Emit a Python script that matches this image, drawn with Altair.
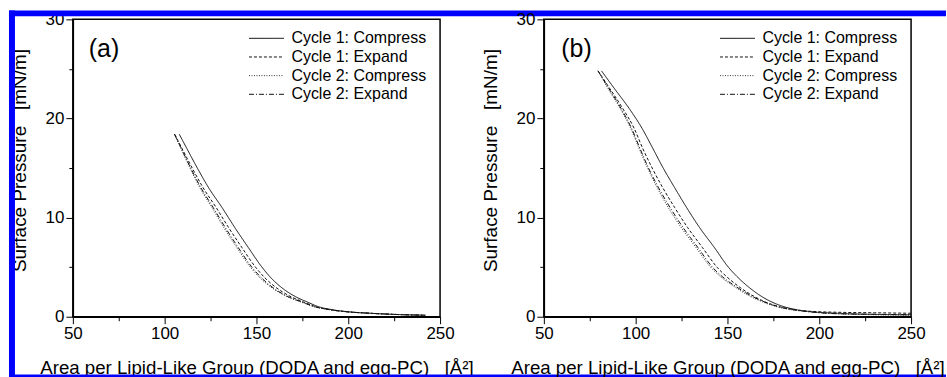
import altair as alt
import pandas as pd

FONT = "Liberation Sans"
series = ["Cycle 1: Compress", "Cycle 1: Expand", "Cycle 2: Compress", "Cycle 2: Expand"]
line_colors = ["#111111", "#111111", "#333333", "#111111"]
line_dashes = [[1, 0], [3, 2], [1, 1.5], [5, 2, 1, 2]]

# ---- panel (a) ----
a_pressure = [18.4, 17, 15, 13, 11, 9, 7, 5, 4, 3, 2, 1.5, 1, 0.7, 0.5, 0.35, 0.25, 0.15]
a_c1_compress = [108.0, 112.0, 117.8, 124.0, 131.3, 138.2, 145.5, 153.0, 157.5, 163.3, 171.5, 177.5, 184.0, 191.5, 200.0, 212.0, 223.0, 242.0]
a_c1_expand = [105.5, 109.4, 115.0, 121.0, 128.1, 134.8, 142.0, 149.5, 154.2, 160.3, 169.0, 175.5, 182.5, 190.5, 199.5, 212.0, 223.0, 242.0]
a_c2_compress = [105.3, 108.8, 113.8, 119.2, 125.8, 132.2, 139.2, 146.7, 151.5, 157.8, 167.0, 174.0, 181.5, 190.0, 199.0, 211.5, 223.0, 242.0]
a_c2_expand = [105.4, 109.0, 114.2, 119.8, 126.5, 133.0, 140.0, 147.5, 152.3, 158.5, 167.5, 174.5, 182.0, 190.2, 199.2, 211.7, 223.0, 242.0]

# ---- panel (b) ----
b_c1_compress_x = [81.4, 88.5, 96.5, 103.5, 109.3, 115.0, 121.3, 127.8, 134.8, 142.8, 150.5, 155.5, 161.5, 169.0, 174.0, 181.0, 188.0, 196.0, 210.0, 225.0, 250.0]
b_c1_compress_y = [24.8, 23, 21, 19, 17, 15, 13, 11, 9, 7, 5, 4, 3, 2, 1.5, 1, 0.7, 0.5, 0.35, 0.25, 0.2]
b_c1_expand_x = [79.5, 86.0, 93.0, 99.2, 103.8, 109.0, 114.8, 121.3, 128.3, 136.3, 144.3, 149.8, 156.5, 165.0, 170.5, 178.5, 186.5, 195.0, 210.0, 230.0, 250.0]
b_c1_expand_y = [24.8, 23, 21, 19, 17, 15, 13, 11, 9, 7, 5, 4, 3, 2, 1.5, 1, 0.7, 0.55, 0.45, 0.4, 0.35]
b_c2_compress_x = [79.5, 85.0, 91.6, 97.3, 101.8, 106.5, 111.8, 117.8, 124.8, 132.8, 140.8, 146.5, 154.0, 163.0, 169.0, 177.0, 185.0, 194.0, 210.0, 230.0, 250.0]
b_c2_compress_y = [24.8, 23, 21, 19, 17, 15, 13, 11, 9, 7, 5, 4, 3, 2, 1.5, 1, 0.7, 0.5, 0.3, 0.2, 0.15]
b_c2_expand_x = [79.5, 85.5, 92.1, 97.8, 102.3, 107.0, 112.5, 118.8, 125.8, 133.8, 141.8, 147.5, 155.0, 164.0, 170.0, 178.0, 186.0, 194.5, 210.0, 230.0, 250.0]
b_c2_expand_y = [24.8, 23, 21, 19, 17, 15, 13, 11, 9, 7, 5, 4, 3, 2, 1.5, 1, 0.7, 0.5, 0.3, 0.25, 0.2]

x_ticks = [50, 75, 100, 125, 150, 175, 200, 225, 250]
y_ticks = [0, 5, 10, 15, 20, 25, 30]
panel_labels = ["(a)", "(b)"]
label_pos_x = [58.7, 59.5]
label_pos_y = [27.0, 27.0]

x_title = "Area per Lipid-Like Group (DODA and egg-PC)\u00a0\u00a0\u00a0[Å²]"
y_title = "Surface Pressure\u00a0\u00a0\u00a0[mN/m]"


def make_df(xs_list, ys_list):
    rows = []
    for name, xs, ys in zip(series, xs_list, ys_list):
        for xv, yv in zip(xs, ys):
            rows.append({"series": name, "area": xv, "pressure": yv})
    return pd.DataFrame(rows)


df_a = make_df([a_c1_compress, a_c1_expand, a_c2_compress, a_c2_expand], [a_pressure] * 4)
df_b = make_df([b_c1_compress_x, b_c1_expand_x, b_c2_compress_x, b_c2_expand_x],
               [b_c1_compress_y, b_c1_expand_y, b_c2_compress_y, b_c2_expand_y])

x_enc = alt.X(
    "area:Q",
    scale=alt.Scale(domain=[50, 250], nice=False, zero=False),
    axis=alt.Axis(
        values=x_ticks,
        labelExpr="datum.value % 50 === 0 ? datum.label : ''",
        tickSize={"condition": {"test": "datum.value % 50 === 0", "value": 7}, "value": 4},
        title=x_title,
        titleBaseline="alphabetic",
        titleY=57,
        titleFontSize=18.7,
    ),
)
y_enc = alt.Y(
    "pressure:Q",
    scale=alt.Scale(domain=[0, 30], nice=False),
    axis=alt.Axis(
        values=y_ticks,
        labelExpr="datum.value % 10 === 0 ? datum.label : ''",
        tickSize={"condition": {"test": "datum.value % 10 === 0", "value": 7}, "value": 4},
        title=y_title,
        titleX=-43,
        titleY=141,
        titleFontSize=19,
    ),
)

legend = alt.Legend(
    title=None, orient="none", legendX=176, legendY=10, padding=0,
    symbolType="stroke", symbolSize=1225, symbolStrokeWidth=1, clipHeight=18,
    labelFontSize=16, labelFont=FONT, labelColor="black", labelOffset=7, rowPadding=0.7,
)


def panel(df, idx, deco=False):
    lines = alt.Chart(df).mark_line(strokeWidth=1, interpolate="monotone").encode(
        x=x_enc,
        y=y_enc,
        color=alt.Color("series:N", scale=alt.Scale(domain=series, range=line_colors), legend=legend),
        strokeDash=alt.StrokeDash("series:N", scale=alt.Scale(domain=series, range=line_dashes), legend=legend),
    )
    lab_df = pd.DataFrame({"area": [label_pos_x[idx]], "pressure": [label_pos_y[idx]], "t": [panel_labels[idx]]})
    lab = alt.Chart(lab_df).mark_text(align="left", baseline="middle", fontSize=25, font=FONT, color="black").encode(
        x=x_enc, y=y_enc, text="t:N"
    )
    layers = [lines, lab]
    if deco:
        one = pd.DataFrame({"k": [0]})
        blue = "#0000ff"
        top = alt.Chart(one).mark_rect(color=blue).encode(
            x=alt.value(-64), x2=alt.value(875), y=alt.value(-9), y2=alt.value(-3))
        left = alt.Chart(one).mark_rect(color=blue).encode(
            x=alt.value(-64), x2=alt.value(-58), y=alt.value(-9), y2=alt.value(359))
        bottom = alt.Chart(one).mark_rect(color=blue).encode(
            x=alt.value(-64), x2=alt.value(875), y=alt.value(356), y2=alt.value(359))
        layers += [top, left, bottom]
    return alt.layer(*layers).properties(width=368, height=298).resolve_scale(
        color="independent", strokeDash="independent")


chart = alt.hconcat(panel(df_a, 0, deco=True), panel(df_b, 1), spacing=104, bounds="flush").resolve_scale(
    color="independent", strokeDash="independent"
).properties(
    padding={"left": 8, "top": 9, "right": 0, "bottom": 0},
    background="white",
).configure_axis(
    labelFont=FONT, labelFontSize=17, labelColor="black", labelFlush=False, labelPadding=2,
    titleFont=FONT, titleFontWeight="normal", titleColor="black",
    domainColor="black", domainWidth=1.5, tickColor="black", tickWidth=1, grid=False,
).configure_view(stroke="black", strokeWidth=1.5)

chart.save("out.html", embed_options={"renderer": "svg", "actions": False})
